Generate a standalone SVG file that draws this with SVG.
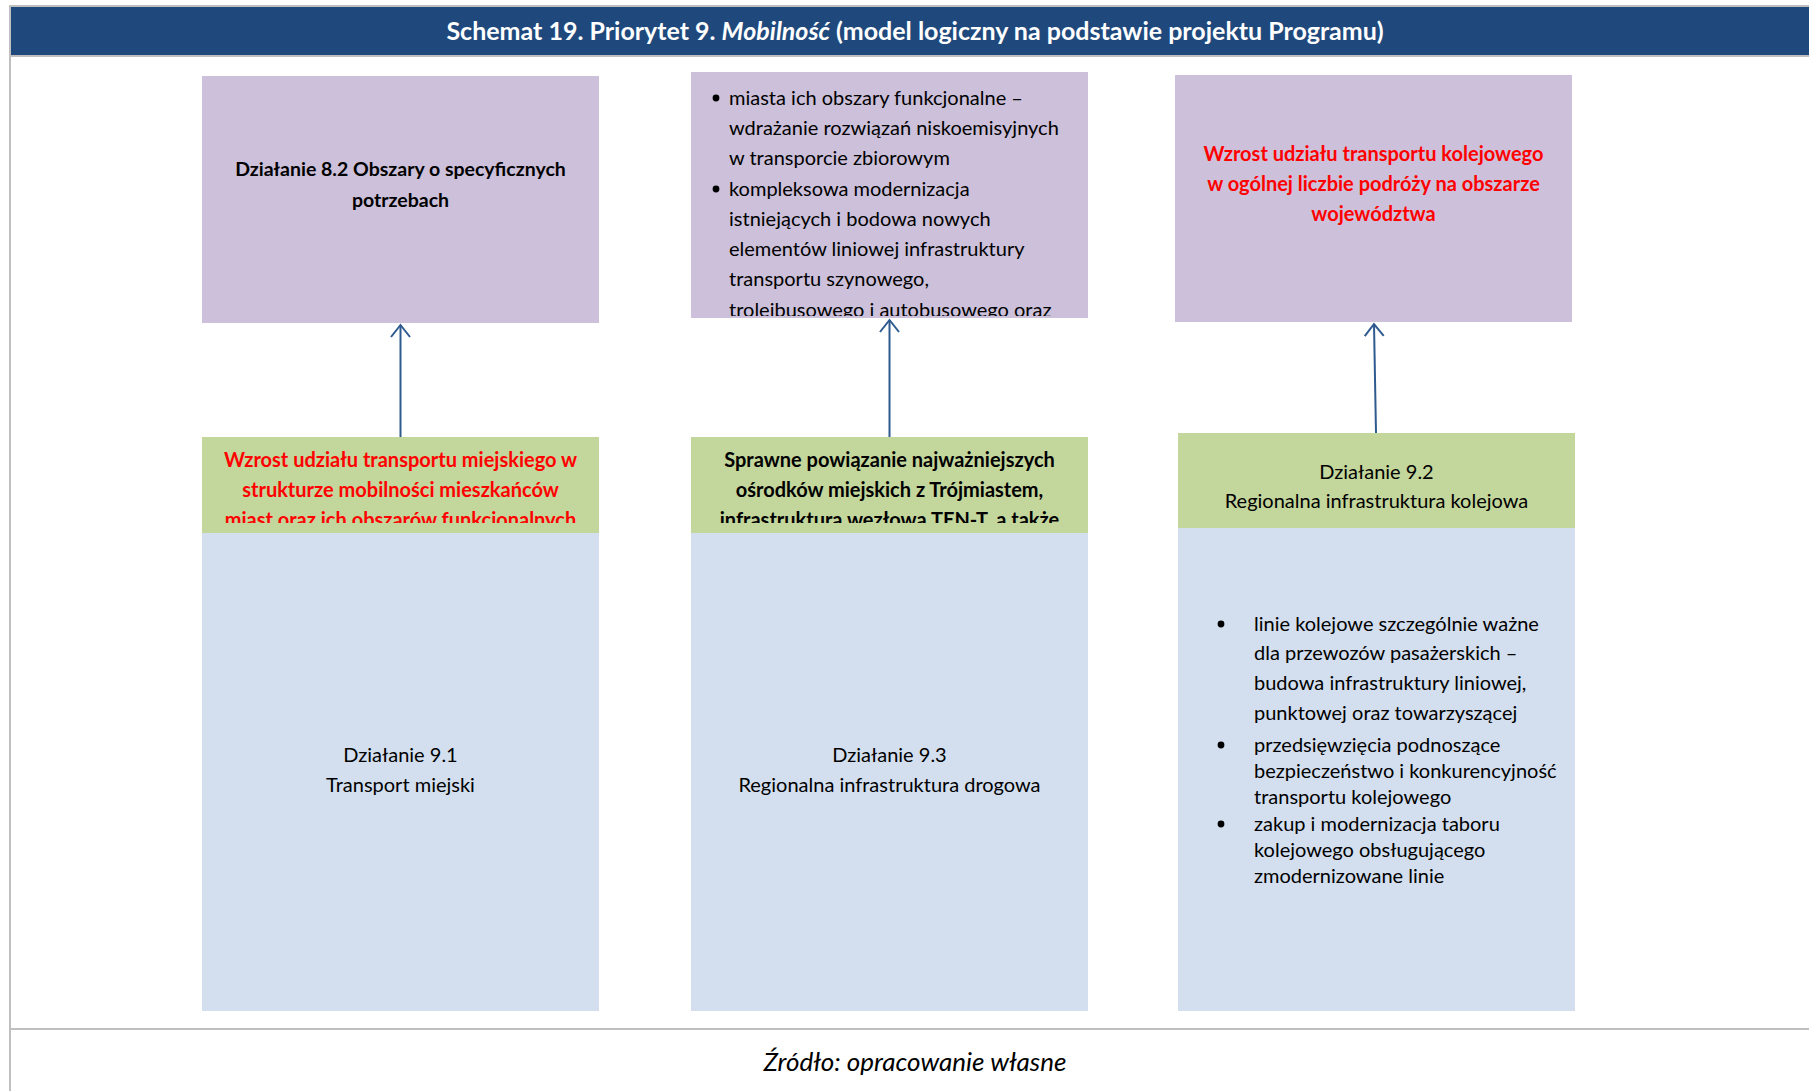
<svg xmlns="http://www.w3.org/2000/svg" width="1809" height="1091" viewBox="0 0 1809 1091">
  <style>
    text { font-family: Lato, "Open Sans", "Liberation Sans", sans-serif; fill: #000; }
    .purple { fill: #CCC0DA; }
    .green { fill: #C3D69B; }
    .blue { fill: #D3DFEE; }
    .frame { fill: #BFBFBF; }
    .b { font-weight: 700; }
    .red { fill: #FF0000; }
    .c { text-anchor: middle; }
    .t { font-size: 20px; }
    .conn { stroke: #2E5A8F; stroke-width: 2; fill: none; }
  </style>
  <defs>
    <marker id="openArrow" markerWidth="16" markerHeight="22" refX="13" refY="11" orient="auto" markerUnits="userSpaceOnUse">
      <path d="M1,1.5 L13,11 L1,20.5" fill="none" stroke="#2E5A8F" stroke-width="2"/>
    </marker>
    <clipPath id="clipTop2"><rect x="691" y="72" width="397" height="244"/></clipPath>
    <clipPath id="clipGreen1"><rect x="202" y="437" width="397" height="86"/></clipPath>
    <clipPath id="clipGreen2"><rect x="691" y="437" width="397" height="86"/></clipPath>
  </defs>

  <rect width="1809" height="1091" fill="#FFFFFF"/>

  <!-- page frame and title bar -->
  <g id="frame">
    <rect class="frame" x="9" y="5" width="1800" height="2"/>
    <rect class="frame" x="9" y="5" width="2" height="1086"/>
    <rect x="11" y="7" width="1798" height="48" fill="#1F497D"/>
    <rect class="frame" x="11" y="55" width="1798" height="2"/>
    <rect class="frame" x="11" y="1028" width="1798" height="2"/>
    <text x="915" y="40" class="c b" style="font-size:25px; fill:#FFFFFF">Schemat 19. Priorytet 9. <tspan font-style="italic">Mobilność</tspan> (model logiczny na podstawie projektu Programu)</text>
    <text x="915" y="1071" class="c" style="font-size:26px; font-style:italic">Źródło: opracowanie własne</text>
  </g>

  <!-- upper row: results -->
  <g id="box-dz82">
    <rect class="purple" x="202" y="76" width="397" height="247"/>
    <text class="b c" style="font-size:19.5px" x="400.5" y="176">Działanie 8.2 Obszary o specyficznych</text>
    <text class="b c" style="font-size:19.5px" x="400.5" y="207">potrzebach</text>
  </g>

  <g id="box-miasta">
    <rect class="purple" x="691" y="72" width="397" height="246"/>
    <g clip-path="url(#clipTop2)">
      <circle cx="716" cy="98" r="3.4" fill="#000"/>
      <circle cx="716" cy="189" r="3.4" fill="#000"/>
      <text class="t" x="729" y="105">miasta ich obszary funkcjonalne –</text>
      <text class="t" x="729" y="135">wdrażanie rozwiązań niskoemisyjnych</text>
      <text class="t" x="729" y="165">w transporcie zbiorowym</text>
      <text class="t" x="729" y="196">kompleksowa modernizacja</text>
      <text class="t" x="729" y="226">istniejących i bodowa nowych</text>
      <text class="t" x="729" y="256">elementów liniowej infrastruktury</text>
      <text class="t" x="729" y="286">transportu szynowego,</text>
      <text class="t" x="729" y="317">trolejbusowego i autobusowego oraz</text>
    </g>
  </g>

  <g id="box-kolej-cel">
    <rect class="purple" x="1175" y="75" width="397" height="247"/>
    <text class="t b c red" x="1373.5" y="161">Wzrost udziału transportu kolejowego</text>
    <text class="t b c red" x="1373.5" y="191">w ogólnej liczbie podróży na obszarze</text>
    <text class="t b c red" x="1373.5" y="221">województwa</text>
  </g>

  <!-- lower row: objectives and measures -->
  <g id="box-dz91">
    <rect class="blue" x="202" y="533" width="397" height="478"/>
    <rect class="green" x="202" y="437" width="397" height="96"/>
    <g clip-path="url(#clipGreen1)">
      <text class="t b c red" x="400.5" y="467">Wzrost udziału transportu miejskiego w</text>
      <text class="t b c red" x="400.5" y="497">strukturze mobilności mieszkańców</text>
      <text class="t b c red" x="400.5" y="527">miast oraz ich obszarów funkcjonalnych</text>
    </g>
    <text class="t c" x="400.5" y="762">Działanie 9.1</text>
    <text class="t c" x="400.5" y="792">Transport miejski</text>
  </g>

  <g id="box-dz93">
    <rect class="blue" x="691" y="533" width="397" height="478"/>
    <rect class="green" x="691" y="437" width="397" height="96"/>
    <g clip-path="url(#clipGreen2)">
      <text class="t b c" x="889.5" y="467">Sprawne powiązanie najważniejszych</text>
      <text class="t b c" x="889.5" y="497">ośrodków miejskich z Trójmiastem,</text>
      <text class="t b c" x="889.5" y="527">infrastruktura węzłowa TEN-T, a także</text>
    </g>
    <text class="t c" x="889.5" y="762">Działanie 9.3</text>
    <text class="t c" x="889.5" y="792">Regionalna infrastruktura drogowa</text>
  </g>

  <g id="box-dz92">
    <rect class="blue" x="1178" y="528" width="397" height="483"/>
    <rect class="green" x="1178" y="433" width="397" height="95"/>
    <text class="t c" x="1376.5" y="479">Działanie 9.2</text>
    <text class="t c" x="1376.5" y="508">Regionalna infrastruktura kolejowa</text>
    <circle cx="1221" cy="624" r="3.4" fill="#000"/>
    <circle cx="1221" cy="745" r="3.4" fill="#000"/>
    <circle cx="1221" cy="824" r="3.4" fill="#000"/>
    <text class="t" x="1254" y="631">linie kolejowe szczególnie ważne</text>
    <text class="t" x="1254" y="660">dla przewozów pasażerskich –</text>
    <text class="t" x="1254" y="690">budowa infrastruktury liniowej,</text>
    <text class="t" x="1254" y="720">punktowej oraz towarzyszącej</text>
    <text class="t" x="1254" y="752">przedsięwzięcia podnoszące</text>
    <text class="t" x="1254" y="778">bezpieczeństwo i konkurencyjność</text>
    <text class="t" x="1254" y="804">transportu kolejowego</text>
    <text class="t" x="1254" y="831">zakup i modernizacja taboru</text>
    <text class="t" x="1254" y="857">kolejowego obsługującego</text>
    <text class="t" x="1254" y="883">zmodernizowane linie</text>
  </g>

  <!-- arrows from objectives up to results -->
  <g id="connectors">
    <line class="conn" x1="400.5" y1="437" x2="400.5" y2="325" marker-end="url(#openArrow)"/>
    <line class="conn" x1="889.5" y1="437" x2="889.5" y2="320" marker-end="url(#openArrow)"/>
    <line class="conn" x1="1376" y1="433" x2="1374" y2="324" marker-end="url(#openArrow)"/>
  </g>
</svg>
